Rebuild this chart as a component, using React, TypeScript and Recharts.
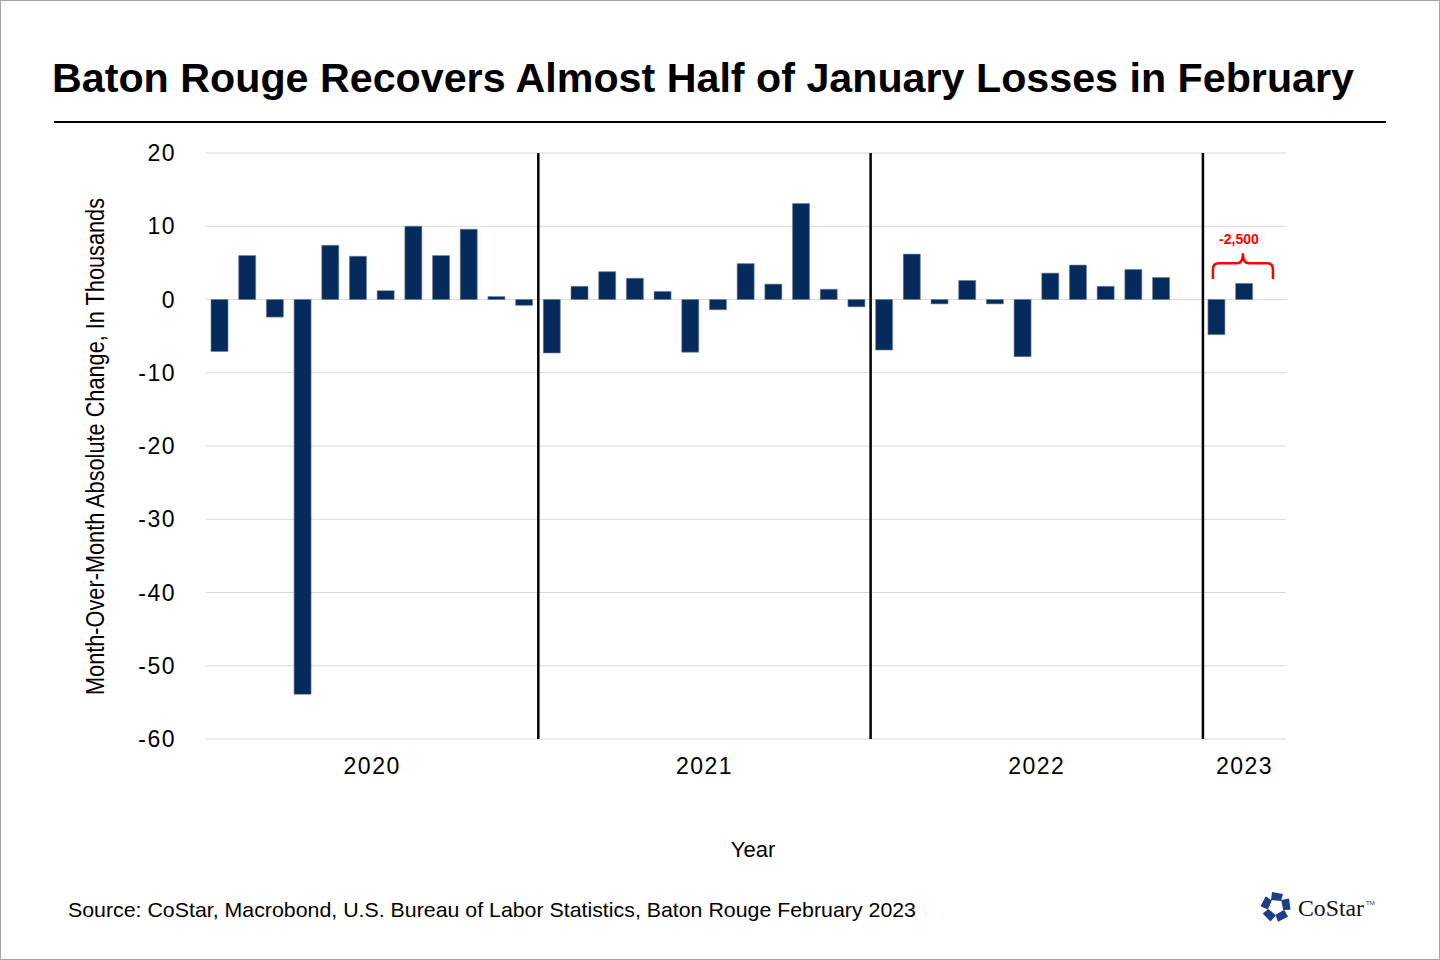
import { BarChart, Bar, XAxis, YAxis, CartesianGrid, ReferenceLine, ReferenceArea } from "recharts";

const months = [
  "Jan 2020", "Feb 2020", "Mar 2020", "Apr 2020", "May 2020", "Jun 2020",
  "Jul 2020", "Aug 2020", "Sep 2020", "Oct 2020", "Nov 2020", "Dec 2020",
  "Jan 2021", "Feb 2021", "Mar 2021", "Apr 2021", "May 2021", "Jun 2021",
  "Jul 2021", "Aug 2021", "Sep 2021", "Oct 2021", "Nov 2021", "Dec 2021",
  "Jan 2022", "Feb 2022", "Mar 2022", "Apr 2022", "May 2022", "Jun 2022",
  "Jul 2022", "Aug 2022", "Sep 2022", "Oct 2022", "Nov 2022", "Dec 2022",
  "Jan 2023", "Feb 2023", "Mar 2023",
];

// month-over-month change, thousands of jobs
const changes: (number | null)[] = [
  -7.1, 6.0, -2.4, -53.9, 7.4, 5.9, 1.2, 10.0, 6.0, 9.6, 0.4, -0.8,
  -7.3, 1.8, 3.8, 2.9, 1.1, -7.2, -1.4, 4.9, 2.1, 13.1, 1.4, -1.0,
  -6.9, 6.2, -0.6, 2.6, -0.6, -7.8, 3.6, 4.7, 1.8, 4.1, 3.0, null,
  -4.8, 2.2, null,
];

const yTicks = [20, 10, 0, -10, -20, -30, -40, -50, -60];
const yearLabels = ["2020", "2021", "2022", "2023"];
const yearTickMonths = ["Jun 2020", "Jun 2021", "Jun 2022", "Feb 2023"];
const yearSplitMonths = ["Jan 2021", "Jan 2022", "Jan 2023"];
const noteText = "-2,500";

const data = months.map((month, i) => ({ month, change: changes[i] }));

const FONT = "'Liberation Sans', Arial, Helvetica, sans-serif";
const NAVY = "#052a5c";

function YearTick(props: any) {
  const { x, y, payload } = props;
  const idx = yearTickMonths.indexOf(payload.value);
  if (idx < 0) return null;
  // full years sit between Jun and Jul, 2023 sits on Feb
  const shift = idx < 3 ? payload.offset ?? 13.85 : 0;
  return (
    <text
      x={x + shift}
      y={y + 35}
      textAnchor="middle"
      fontFamily={FONT}
      fontSize={23}
      letterSpacing={1.5}
      fill="#000"
    >
      {yearLabels[idx]}
    </text>
  );
}

function Brace(props: any) {
  const { x, y, height } = props;
  const L = x + 10;
  const R = x + 70;
  const M = (L + R) / 2;
  const yT = y + 10;
  const yB = y + height;
  const r = 6;
  const d =
    `M${L},${yB} L${L},${yT + r} Q${L},${yT} ${L + r},${yT} L${M - r},${yT} Q${M},${yT} ${M},${y}` +
    ` M${M},${y} Q${M},${yT} ${M + r},${yT} L${R - r},${yT} Q${R},${yT} ${R},${yT + r} L${R},${yB}`;
  return (
    <g>
      <path d={d} fill="none" stroke="#ff0000" strokeWidth={2.5} />
      <text
        x={M - 4}
        y={y - 9}
        textAnchor="middle"
        fontFamily={FONT}
        fontSize={14}
        fontWeight="bold"
        fill="#ff0000"
      >
        {noteText}
      </text>
    </g>
  );
}

export default function App() {
  return (
    <div
      style={{
        position: "relative",
        width: 1440,
        height: 960,
        boxSizing: "border-box",
        border: "1px solid #a6a6a6",
        background: "#fff",
        overflow: "hidden",
      }}
    >
      <style>{"body{margin:0}"}</style>
      <div style={{ position: "absolute", left: 0, top: -1 }}>
        <BarChart
          width={1440}
          height={960}
          data={data}
          margin={{ top: 153, right: 155, bottom: 181, left: 0 }}
        >
          <CartesianGrid vertical={false} stroke="#d9d9d9" strokeWidth={1} />
          <XAxis
            dataKey="month"
            axisLine={false}
            tickLine={false}
            tickSize={0}
            tickMargin={0}
            interval={0}
            height={40}
            tick={<YearTick />}
          />
          <YAxis
            width={205}
            domain={[-60, 20]}
            ticks={yTicks}
            axisLine={false}
            tickLine={false}
            tickSize={0}
            tickMargin={30}
            tick={{ fontFamily: FONT, fontSize: 23, fill: "#000", letterSpacing: 1.5 }}
          />
          <Bar
            dataKey="change"
            fill={NAVY}
            stroke="#6d819e"
            strokeWidth={0.6}
            barSize={17}
            isAnimationActive={false}
          />
          {yearSplitMonths.map((m) => (
            <ReferenceLine key={m} x={m} position="start" stroke="#000" strokeWidth={2.5} />
          ))}
          <ReferenceArea
            x1="Jan 2023"
            x2="Mar 2023"
            y1={2.8}
            y2={6.3}
            ifOverflow="visible"
            shape={<Brace />}
          />
        </BarChart>
      </div>
      <svg
        width={1440}
        height={960}
        style={{ position: "absolute", left: -1, top: -1, pointerEvents: "none" }}
      >
        <text
          x={52}
          y={92}
          fontFamily={FONT}
          fontSize={40}
          fontWeight="bold"
          textLength={1302}
          lengthAdjust="spacingAndGlyphs"
          fill="#000"
        >
          Baton Rouge Recovers Almost Half of January Losses in February
        </text>
        <line x1={54} x2={1386} y1={122} y2={122} stroke="#000" strokeWidth={2} />
        <text
          transform="translate(104,446.5) rotate(-90)"
          textAnchor="middle"
          fontFamily={FONT}
          fontSize={25}
          textLength={497}
          lengthAdjust="spacingAndGlyphs"
          fill="#000"
        >
          Month-Over-Month Absolute Change, In Thousands
        </text>
        <text x={753} y={857} textAnchor="middle" fontFamily={FONT} fontSize={22} fill="#000">
          Year
        </text>
        <text
          x={68}
          y={917}
          fontFamily={FONT}
          fontSize={21}
          textLength={848}
          lengthAdjust="spacingAndGlyphs"
          fill="#000"
        >
          Source: CoStar, Macrobond, U.S. Bureau of Labor Statistics, Baton Rouge February 2023
        </text>
        <g transform="translate(1276,907)" fill="#1f3c88">
          {[0, 72, 144, 216, 288].map((a) => (
            <polygon key={a} points="-4,-15 7,-13 5,-6 -5,-7" transform={`rotate(${a})`} />
          ))}
        </g>
        <text
          x={1298}
          y={916}
          fontFamily="'Liberation Serif', 'Times New Roman', serif"
          fontSize={23}
          textLength={66}
          lengthAdjust="spacingAndGlyphs"
          fill="#111"
        >
          CoStar
        </text>
        <text x={1366} y={905} fontFamily={FONT} fontSize={6} fill="#333">
          TM
        </text>
      </svg>
    </div>
  );
}
